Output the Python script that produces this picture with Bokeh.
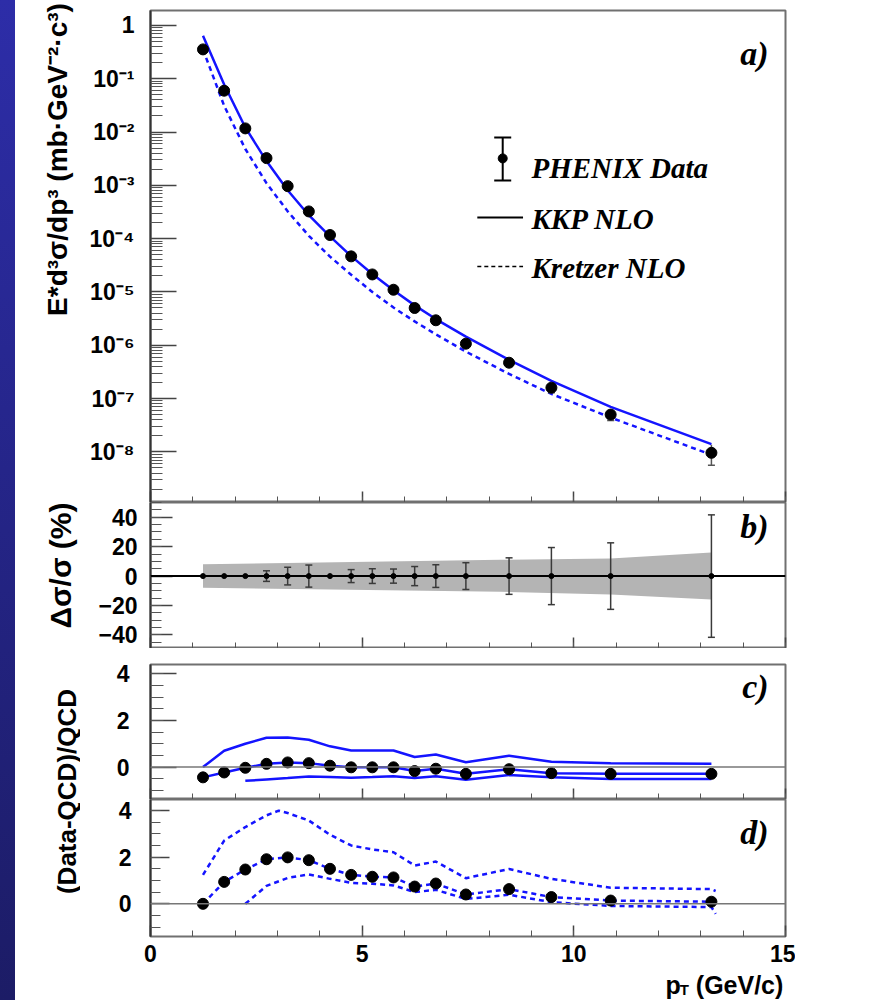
import math
from bokeh.plotting import figure
from bokeh.models import (Range1d, FixedTicker, SingleIntervalTicker,
                          CustomJSTickFormatter, Span, Label, Div)
from bokeh.layouts import row, column
from bokeh.embed import file_html
from bokeh.resources import INLINE
from bokeh.core.properties import value

# ---------------- data ----------------
pt = [1.24, 1.74, 2.24, 2.74, 3.24, 3.74, 4.24, 4.74, 5.24, 5.74,
      6.24, 6.74, 7.45, 8.47, 9.47, 10.87, 13.25]
sigma = [0.355, 0.0596, 0.0117, 3.24e-3, 9.66e-4, 3.24e-4, 1.17e-4, 4.65e-5,
         2.13e-5, 1.10e-5, 5.0e-6, 2.94e-6, 1.07e-6, 4.7e-7, 1.6e-7, 5.0e-8, 9.6e-9]
kkp = [0.64, 0.078, 0.0122, 2.85e-3, 8.1e-4, 2.75e-4, 1.10e-4, 4.7e-5,
       2.17e-5, 1.08e-5, 5.6e-6, 3.1e-6, 1.45e-6, 5.3e-7, 2.15e-7, 7.0e-8, 1.4e-8]
kretzer = [0.355, 0.031, 4.8e-3, 1.1e-3, 3.25e-4, 1.13e-4, 4.6e-5, 2.1e-5,
           1.0e-5, 5.1e-6, 2.8e-6, 1.6e-6, 7.6e-7, 2.9e-7, 1.22e-7, 4.4e-8, 8.8e-9]

# panel b: relative errors (%)
rel_dev = [0, 0, 0, 0, 0, 0, 0, 0, 0, 0, 0, 0, 0, 0, 0, 0, 0]
err_pct = [0, 0, 0, 3.6, 6.0, 7.5, 0, 4.4, 5.0, 4.8, 6.5, 7.7, 9.1, 12.4, 19.4, 22.6, 41.6]
band_pt = [1.24, 8.27, 10.87, 13.25]
band_hi = [8.0, 11.1, 12.0, 16.1]
band_lo = [-8.0, -10.7, -12.5, -15.9]

# panel c: (Data-KKP)/KKP
ratio_kkp = [-0.44, -0.23, -0.03, 0.14, 0.20, 0.17, 0.06, -0.01, -0.01, -0.01,
             -0.17, -0.07, -0.29, -0.09, -0.26, -0.29, -0.29]
kkp_hi_pt = [1.24, 1.74, 2.24, 2.74, 3.24, 3.74, 4.24, 4.74, 5.24, 5.74,
             6.24, 6.74, 7.45, 8.47, 9.47, 10.87, 13.25]
kkp_hi = [0.0, 0.70, 1.00, 1.26, 1.27, 1.17, 0.89, 0.71, 0.71, 0.71,
          0.43, 0.54, 0.21, 0.49, 0.23, 0.16, 0.14]
kkp_lo_pt = [2.24, 2.74, 3.24, 3.74, 4.24, 4.74, 5.24, 5.74,
             6.24, 6.74, 7.45, 8.47, 9.47, 10.87, 13.25]
kkp_lo = [-0.59, -0.53, -0.47, -0.40, -0.43, -0.46, -0.43, -0.39,
          -0.47, -0.39, -0.54, -0.34, -0.44, -0.51, -0.51]

# panel d: (Data-Kretzer)/Kretzer
ratio_kre = [0.0, 0.94, 1.47, 1.91, 1.99, 1.87, 1.50, 1.24, 1.16, 1.13,
             0.74, 0.87, 0.40, 0.63, 0.29, 0.14, 0.09]
kre_hi_pt = [1.24, 1.74, 2.24, 2.74, 3.03, 3.24, 3.74, 4.24, 4.74, 5.24, 5.74,
             6.24, 6.74, 7.45, 8.47, 9.47, 10.87, 13.25, 13.35]
kre_hi = [1.24, 2.71, 3.29, 3.79, 3.99, 3.89, 3.57, 2.96, 2.50, 2.33, 2.21,
          1.64, 1.81, 1.10, 1.49, 1.07, 0.69, 0.63, 0.55]
kre_lo_pt = [2.24, 2.74, 3.24, 3.74, 4.24, 4.74, 5.24, 5.74,
             6.24, 6.74, 7.45, 8.47, 9.47, 10.87, 13.25, 13.35]
kre_lo = [0.0, 0.77, 1.11, 1.26, 1.07, 0.90, 0.86, 0.79,
          0.50, 0.60, 0.21, 0.39, 0.07, -0.09, -0.14, -0.43]

x_tick_labels = ["0", "5", "10", "15"]

# ---------------- styling ----------------
SANS = "Liberation Sans"
SERIF = "Liberation Serif"
BLUE = "#1414ff"
FRAME_W = 635
LEFT = 70
RIGHT = 10
TOTAL_H = 1000
PANEL_W = LEFT + FRAME_W + RIGHT


def make_panel(frame_h, y_range, border_top, border_bottom, y_type="linear"):
    p = figure(frame_width=FRAME_W, frame_height=frame_h,
               x_range=Range1d(0, 15), y_range=y_range, y_axis_type=y_type,
               min_border_left=LEFT, min_border_right=RIGHT,
               min_border_top=border_top, min_border_bottom=border_bottom,
               output_backend="svg", toolbar_location=None)
    p.grid.visible = False
    p.outline_line_color = "#707070"
    p.outline_line_width = 2
    p.background_fill_color = "white"
    p.border_fill_color = "white"
    xa = p.xaxis[0]
    xa.ticker = SingleIntervalTicker(interval=5, num_minor_ticks=5)
    xa.axis_line_color = None
    xa.major_tick_in = 11
    xa.major_tick_out = 0
    xa.minor_tick_in = 6
    xa.minor_tick_out = 0
    xa.major_tick_line_color = "#444444"
    xa.major_tick_line_width = 1.5
    xa.minor_tick_line_color = "#555555"
    xa.major_label_text_font = SANS
    xa.major_label_text_font_style = "bold"
    xa.major_label_text_font_size = "1px"
    xa.major_label_standoff = 0
    xa.formatter = CustomJSTickFormatter(code="return '';")
    ya = p.yaxis[0]
    ya.axis_line_color = "#333333"
    ya.axis_line_width = 2
    ya.major_tick_out = 0
    ya.minor_tick_out = 0
    ya.major_tick_line_color = "#444444"
    ya.major_tick_line_width = 1.5
    ya.minor_tick_line_color = "#555555"
    ya.major_label_text_font = SANS
    ya.major_label_text_font_style = "bold"
    ya.major_label_text_font_size = "23px"
    ya.major_label_text_color = "black"
    return p


def panel_label(p, x, y, txt):
    p.add_layout(Label(x=x, y=y, text=txt, text_align="right", text_baseline="middle",
                       text_font=SERIF, text_font_style="bold italic",
                       text_font_size="34px", text_color="black"))


# ---------------- panel a ----------------
pa = make_panel(492, Range1d(10 ** -8.95, 10 ** 0.28), 10, 0, "log")
ya = pa.yaxis[0]
ya.ticker = FixedTicker(ticks=[10.0 ** e for e in range(-8, 1)],
                        minor_ticks=[m * 10.0 ** e for e in range(-9, 1) for m in range(2, 10)])
ya.formatter = CustomJSTickFormatter(code="""
const e = Math.round(Math.log10(tick));
if (e === 0) { return "1"; }
const sup = {"-": "\u207b", "0": "\u2070", "1": "\u00b9", "2": "\u00b2", "3": "\u00b3",
             "4": "\u2074", "5": "\u2075", "6": "\u2076", "7": "\u2077", "8": "\u2078", "9": "\u2079"};
return "10" + String(e).split("").map(c => sup[c]).join("");
""")
ya.major_tick_in = 26
ya.minor_tick_in = 12
ya.major_label_standoff = 16

pa.line(pt, kkp, line_color=BLUE, line_width=2.5)
pa.line(pt, kretzer, line_color=BLUE, line_width=2.5, line_dash="5 4")
eb_x = [x for x, e in zip(pt, err_pct) if e > 0]
eb_lo_a = [s * (1 - e / 100) for s, e in zip(sigma, err_pct) if e > 0]
eb_hi_a = [s * (1 + e / 100) for s, e in zip(sigma, err_pct) if e > 0]
pa.segment(x0=eb_x, y0=eb_lo_a, x1=eb_x, y1=eb_hi_a, line_color="#555555", line_width=1.5)
pa.scatter(eb_x, eb_lo_a, marker="dash", size=7, line_color="#555555", line_width=1.5)
pa.scatter(pt, sigma, size=11, color="black")

# legend (ROOT style, black symbols)
LEG_SYM_X = 8.32
LEG_LINE_X0, LEG_LINE_X1 = 7.72, 8.80
LEG_TXT_X = 9.0
pa.segment(x0=[LEG_SYM_X], y0=[1.23e-3], x1=[LEG_SYM_X], y1=[7.9e-3], line_color="black", line_width=2)
pa.scatter([LEG_SYM_X, LEG_SYM_X], [1.23e-3, 7.9e-3], marker="dash", size=17, line_color="black", line_width=2)
pa.scatter([LEG_SYM_X], [3.2e-3], size=9, color="black")
pa.segment(x0=[LEG_LINE_X0], y0=[2.49e-4], x1=[LEG_LINE_X1], y1=[2.49e-4], line_color="black", line_width=2)
pa.segment(x0=[LEG_LINE_X0], y0=[3.0e-5], x1=[LEG_LINE_X1], y1=[3.0e-5], line_color="black",
           line_width=1.5, line_dash="4 3")
for txt, yy in [("PHENIX Data", 2.07e-3), ("KKP NLO", 2.29e-4), ("Kretzer NLO", 2.87e-5)]:
    pa.add_layout(Label(x=LEG_TXT_X, y=yy, text=txt, text_align="left", text_baseline="middle",
                        text_font=SERIF, text_font_style="bold italic", text_font_size="29px",
                        text_color="black"))
panel_label(pa, 14.6, 0.297, "a)")

# ---------------- panel b ----------------
pb = make_panel(146, Range1d(-49.2, 50.0), 0, 0)
yb = pb.yaxis[0]
yb.ticker = SingleIntervalTicker(interval=20, num_minor_ticks=4)
yb.major_tick_in = 22
yb.minor_tick_in = 11
yb.major_label_standoff = 13
pb.varea(x=band_pt, y1=band_lo, y2=band_hi, fill_color="#b4b4b4")
pb.add_layout(Span(location=0, dimension="width", line_color="black", line_width=2))
eb_lo_b = [d - e for d, e in zip(rel_dev, err_pct) if e > 0]
eb_hi_b = [d + e for d, e in zip(rel_dev, err_pct) if e > 0]
pb.segment(x0=eb_x, y0=eb_lo_b, x1=eb_x, y1=eb_hi_b, line_color="#3a3a3a", line_width=1.5)
pb.scatter(eb_x + eb_x, eb_lo_b + eb_hi_b, marker="dash", size=7, line_color="#3a3a3a", line_width=1.5)
pb.scatter(pt, rel_dev, size=5, color="black")
panel_label(pb, 14.6, 33.6, "b)")

# ---------------- panel c ----------------
pc = make_panel(135, Range1d(-1.39, 4.4), 16, 0)
yc = pc.yaxis[0]
yc.ticker = SingleIntervalTicker(interval=2, num_minor_ticks=4)
yc.major_tick_in = 26
yc.minor_tick_in = 13
yc.major_label_standoff = 21
pc.add_layout(Span(location=0, dimension="width", line_color="#777777", line_width=1.5))
pc.line(kkp_hi_pt, kkp_hi, line_color=BLUE, line_width=2.5)
pc.line(kkp_lo_pt, kkp_lo, line_color=BLUE, line_width=2.5)
pc.line(pt, ratio_kkp, line_color=BLUE, line_width=2.5)
pc.scatter(pt, ratio_kkp, size=11, color="black")
panel_label(pc, 14.6, 3.46, "c)")

# ---------------- panel d ----------------
pdd = make_panel(137, Range1d(-1.4, 4.47), 0, 35)
yd = pdd.yaxis[0]
yd.ticker = SingleIntervalTicker(interval=2, num_minor_ticks=4)
yd.major_tick_in = 19
yd.minor_tick_in = 10
yd.major_label_standoff = 19
xd = pdd.xaxis[0]
xd.formatter = CustomJSTickFormatter(code="""
const labels = {0: "%s", 5: "%s", 10: "%s", 15: "%s"};
const k = Math.round(tick);
return (k in labels) ? labels[k] : String(tick);
""" % tuple(x_tick_labels))
xd.major_label_text_font_size = "23px"
xd.major_label_standoff = 8
xd.major_label_text_color = "black"
pdd.add_layout(Span(location=0, dimension="width", line_color="#777777", line_width=1.5))
pdd.line(kre_hi_pt, kre_hi, line_color=BLUE, line_width=2.5, line_dash="5 4")
pdd.line(kre_lo_pt, kre_lo, line_color=BLUE, line_width=2.5, line_dash="5 4")
pdd.line(pt, ratio_kre, line_color=BLUE, line_width=2.5, line_dash="5 4")
pdd.scatter(pt, ratio_kre, size=11, color="black")
panel_label(pdd, 14.6, 3.05, "d)")

# ---------------- bottom strip with the x-axis title  p_T (GeV/c) ----------------
BOT_H = 28
bottom = figure(width=PANEL_W, height=BOT_H, x_range=Range1d(0, PANEL_W), y_range=Range1d(0, BOT_H),
                min_border=0, x_axis_location=None, y_axis_location=None,
                output_backend="svg", toolbar_location=None)
bottom.grid.visible = False
bottom.outline_line_color = None
bottom.text(x=[614], y=[15], text=["(GeV/c)"], text_align="left", text_baseline="middle",
            text_font=value(SANS), text_font_style="bold", text_font_size="25px", text_color="black")
bottom.text(x=[580], y=[15], text=["p"], text_align="left", text_baseline="middle",
            text_font=value(SANS), text_font_style="bold", text_font_size="25px", text_color="black")
bottom.text(x=[596], y=[10], text=["T"], text_align="left", text_baseline="middle",
            text_font=value(SANS), text_font_style="bold", text_font_size="15px", text_color="black")

# ---------------- left strip with y-axis titles ----------------
strip = figure(width=65, height=TOTAL_H, x_range=Range1d(0, 65), y_range=Range1d(0, TOTAL_H),
               min_border=0, x_axis_location=None, y_axis_location=None,
               output_backend="svg", toolbar_location=None)
strip.grid.visible = False
strip.outline_line_color = None
strip.text(x=[42], y=[TOTAL_H - 159], text=["E*d³σ/dp³ (mb·GeV⁻²·c³)"],
           angle=math.pi / 2, text_align="center", text_baseline="middle",
           text_font=value(SANS), text_font_style="bold", text_font_size="28px",
           text_color="black")
strip.text(x=[45], y=[TOTAL_H - 565], text=["Δσ/σ (%)"],
           angle=math.pi / 2, text_align="center", text_baseline="middle",
           text_font=value(SANS), text_font_style="bold", text_font_size="30px",
           text_color="black")
strip.text(x=[51], y=[TOTAL_H - 791], text=["(Data-QCD)/QCD"],
           angle=math.pi / 2, text_align="center", text_baseline="middle",
           text_font=value(SANS), text_font_style="bold", text_font_size="26px",
           text_color="black")

band = Div(width=15, height=TOTAL_H, margin=(0, 0, 0, 0),
           styles={"background": "linear-gradient(to bottom, #2d2da8, #1c1c66)"})

layout = row(band, strip, column(pa, pb, pc, pdd, bottom, spacing=0), spacing=0)
open("out.html", "w").write(file_html(layout, INLINE))
